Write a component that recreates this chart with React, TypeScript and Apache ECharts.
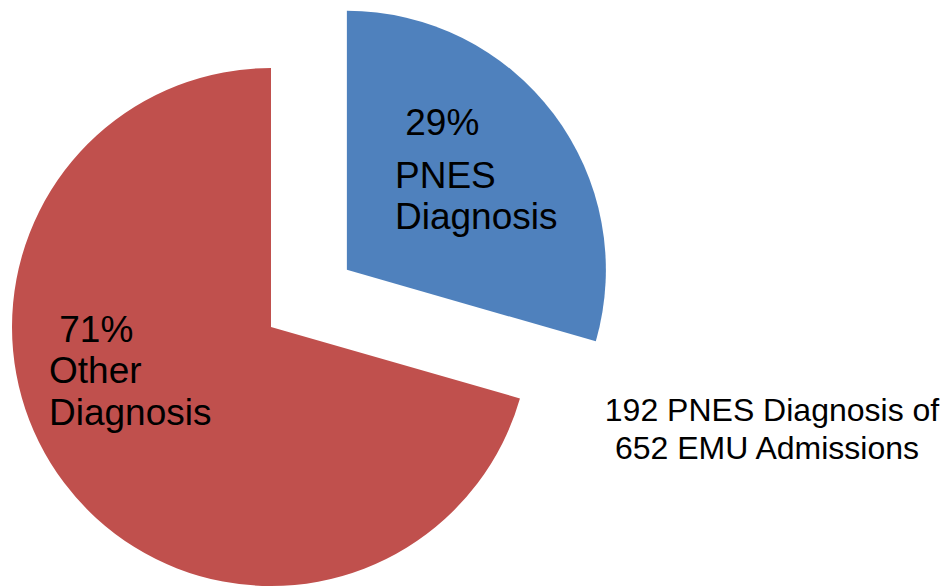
import React, { useEffect, useRef } from "react";
import * as echarts from "echarts";

const categories = ["PNES Diagnosis", "Other Diagnosis"];
const counts = [192, 460];
const percentLabels = ["29%", "71%"];
const colors = ["#4F81BD", "#C0504D"];
const noteLines = ["192 PNES Diagnosis of", "652 EMU Admissions"];

export default function App() {
  const ref = useRef<HTMLDivElement>(null);
  useEffect(() => {
    const chart = echarts.init(ref.current!, null, { renderer: "svg" });
    const font = "'Liberation Sans', Arial, sans-serif";
    const txt = (text: string, x: number, y: number, size: number, align = "left") => ({
      type: "text",
      x,
      y,
      z: 100,
      zlevel: 1,
      silent: true,
      style: {
        text,
        fontSize: size,
        fontFamily: font,
        fill: "#000",
        align,
        verticalAlign: "middle",
      },
    });
    chart.setOption({
      animation: false,
      backgroundColor: "#ffffff",
      series: [
        {
          type: "pie",
          center: [271, 327],
          radius: [0, 259],
          startAngle: 90,
          clockwise: true,
          selectedMode: "single",
          selectedOffset: 95,
          label: { show: false },
          labelLine: { show: false },
          emphasis: { disabled: true },
          itemStyle: { borderWidth: 0 },
          data: categories.map((c, i) => ({
            name: c,
            value: counts[i],
            selected: i === 0,
            itemStyle: { color: colors[i] },
          })),
        },
      ],
      graphic: [
        txt(" " + percentLabels[0], 395, 122, 37),
        txt(categories[0].split(" ")[0], 395, 175, 37),
        txt(categories[0].split(" ")[1], 395, 216, 37),
        txt(" " + percentLabels[1], 49, 329, 37),
        txt(categories[1].split(" ")[0], 49, 370, 37),
        txt(categories[1].split(" ")[1], 49, 412, 37),
        txt(noteLines[0], 772, 410, 32, "center"),
        txt(noteLines[1], 767, 448, 32, "center"),
      ],
    });
    return () => chart.dispose();
  }, []);
  return (
    <div
      ref={ref}
      style={{ position: "absolute", left: 0, top: 0, width: 943, height: 586 }}
    />
  );
}
